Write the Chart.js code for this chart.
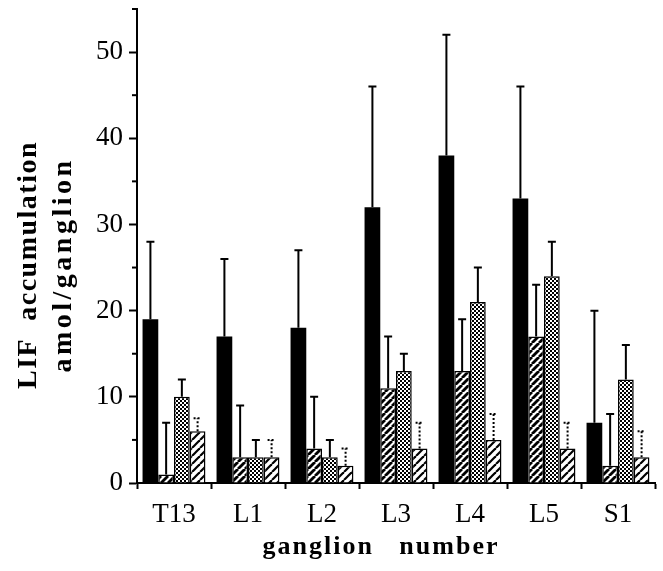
<!DOCTYPE html>
<html>
<head>
  <title>LIF accumulation by ganglion</title>
  <style>
    body { margin: 0; background: #fff; }
    #wrap { width: 663px; height: 571px; }
  </style>
</head>
<body>
  <div id="wrap"><canvas id="chart" width="663" height="571"></canvas></div>

  <script src="https://cdn.jsdelivr.net/npm/chart.js"></script>
  <script>
    // ganglia along the x axis
    const ganglia = ["T13", "L1", "L2", "L3", "L4", "L5", "S1"];

    // bar heights (amol/ganglion), four groups per ganglion
    const solidVals   = [19, 17, 18, 32, 38, 33, 7];
    const hatchVals   = [1, 3, 4, 11, 13, 17, 2];
    const checkVals   = [10, 3, 3, 13, 21, 24, 12];
    const lightVals   = [6, 3, 2, 4, 5, 4, 3];

    // top of each error bar (mean + SD)
    const solidTop = [28, 26, 27, 46, 52, 46, 20];
    const hatchTop = [7, 9, 10, 17, 19, 23, 8];
    const checkTop = [12, 5, 5, 15, 25, 28, 16];
    const lightTop = [7.5, 5, 4, 7, 8, 7, 6];

    const yTicks = [0, 10, 20, 30, 40, 50];

    const serif = "'Liberation Serif', 'Times New Roman', serif";

    function makePattern(draw, w, h) {
      const c = document.createElement("canvas");
      c.width = w; c.height = h;
      const g = c.getContext("2d");
      g.fillStyle = "#fff";
      g.fillRect(0, 0, w, h);
      draw(g, w, h);
      return g.createPattern(c, "repeat");
    }

    function stripes(lw, step) {
      return makePattern((g, w, h) => {
        g.strokeStyle = "#000";
        g.lineWidth = lw;
        for (let k = -1; k <= 1; k++) {
          g.beginPath();
          g.moveTo(k * w, h);
          g.lineTo(k * w + w, 0);
          g.stroke();
        }
      }, step, step);
    }

    const hatchFill = stripes(2.8, 7);
    const lightFill = stripes(2.2, 8);
    const checkFill = makePattern((g) => {
      g.fillStyle = "#000";
      g.fillRect(0, 0, 2, 2);
      g.fillRect(2, 2, 2, 2);
    }, 4, 4);

    const errTops = [solidTop, hatchTop, checkTop, lightTop];

    // upward error bars, last group dotted
    const errorBars = {
      id: "errorBars",
      afterDatasetsDraw(chart) {
        const ctx = chart.ctx;
        const y = chart.scales.y;
        ctx.save();
        ctx.strokeStyle = "#000";
        ctx.lineWidth = 2;
        chart.data.datasets.forEach((ds, i) => {
          const meta = chart.getDatasetMeta(i);
          ctx.setLineDash(i === 3 ? [2, 2] : []);
          meta.data.forEach((bar, j) => {
            const top = y.getPixelForValue(errTops[i][j]);
            ctx.beginPath();
            ctx.moveTo(bar.x, bar.y);
            ctx.lineTo(bar.x, top);
            ctx.moveTo(bar.x - 4, top);
            ctx.lineTo(bar.x + 4, top);
            ctx.stroke();
          });
        });
        ctx.restore();
      }
    };

    // minor y ticks and the axis titles
    const decorations = {
      id: "decorations",
      afterDraw(chart) {
        const ctx = chart.ctx;
        const y = chart.scales.y;
        const left = chart.chartArea.left;
        ctx.save();
        ctx.strokeStyle = "#000";
        ctx.lineWidth = 2;
        for (let v = 5; v <= 55; v += 10) {
          const py = y.getPixelForValue(v);
          ctx.beginPath();
          ctx.moveTo(left - 5, py);
          ctx.lineTo(left, py);
          ctx.stroke();
        }

        ctx.fillStyle = "#000";
        ctx.textAlign = "center";
        ctx.textBaseline = "middle";
        ctx.font = "bold 26px " + serif;
        ctx.letterSpacing = "2px";
        ctx.fillText("ganglion   number", 381, 547);

        ctx.translate(0, 265);
        ctx.rotate(-Math.PI / 2);
        ctx.font = "bold 28px " + serif;
        ctx.letterSpacing = "1.5px";
        ctx.fillText("LIF  accumulation", 0, 29);
        ctx.letterSpacing = "3.5px";
        ctx.fillText("amol/ganglion", 0, 64);
        ctx.restore();
      }
    };

    new Chart(document.getElementById("chart"), {
      type: "bar",
      data: {
        labels: ganglia,
        datasets: [
          { label: "solid", data: solidVals, backgroundColor: "#000", borderColor: "#000", borderWidth: 0 },
          { label: "hatched", data: hatchVals, backgroundColor: hatchFill, borderColor: "#000", borderWidth: 1.5 },
          { label: "stippled", data: checkVals, backgroundColor: checkFill, borderColor: "#000", borderWidth: 1.5 },
          { label: "light hatched", data: lightVals, backgroundColor: lightFill, borderColor: "#000", borderWidth: 1.5 }
        ]
      },
      options: {
        responsive: false,
        animation: false,
        events: [],
        layout: { padding: { top: 9, right: 8, left: 0, bottom: 0 } },
        datasets: { bar: { categoryPercentage: 0.85, barPercentage: 1 } },
        plugins: {
          legend: { display: false },
          tooltip: { enabled: false }
        },
        scales: {
          x: {
            grid: { drawOnChartArea: false, offset: true, tickLength: 6, tickColor: "#000", tickWidth: 2 },
            border: { color: "#000", width: 2 },
            ticks: { color: "#000", font: { family: serif, size: 27 }, padding: 10, maxRotation: 0 },
            afterFit(scale) {
              scale.height = 88;
              scale.paddingLeft = 0;
              scale.paddingRight = 0;
            }
          },
          y: {
            min: 0,
            max: 55,
            afterBuildTicks(scale) {
              scale.ticks = yTicks.map(v => ({ value: v }));
            },
            grid: { drawOnChartArea: false, tickLength: 8, tickColor: "#000", tickWidth: 2 },
            border: { color: "#000", width: 2 },
            ticks: { color: "#000", font: { family: serif, size: 27 }, padding: 6 },
            afterFit(scale) {
              scale.width = 137;
              scale.paddingTop = 0;
              scale.paddingBottom = 0;
            }
          }
        }
      },
      plugins: [errorBars, decorations]
    });
  </script>
</body>
</html>
